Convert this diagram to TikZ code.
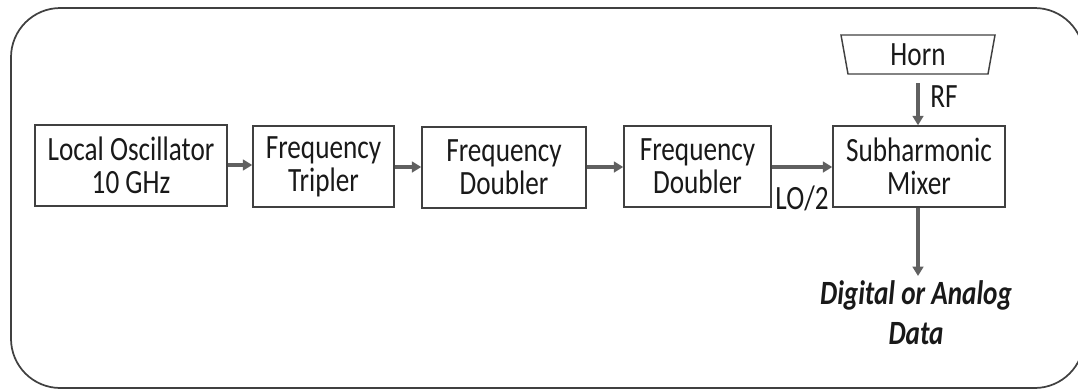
\documentclass[tikz,border=0pt]{standalone}
\usepackage{fontspec}
\setmainfont{Carlito}[FakeStretch=0.8]
\usetikzlibrary{arrows.meta,shapes.geometric}
\definecolor{boxline}{HTML}{404040}
\definecolor{arrowgray}{HTML}{606060}
\tikzset{
  blk/.style={draw=boxline,line width=1.1pt,minimum height=60.75pt,align=center,inner sep=0pt,
    font=\fontsize{25.5}{25}\selectfont,text=black!90},
  conn/.style={draw=arrowgray,line width=2.4pt,-{Triangle[length=7pt,width=8pt]}},
  lbl/.style={font=\fontsize{25.5}{25}\selectfont,text=black!90,inner sep=0pt},
}
\begin{document}
\begin{tikzpicture}[x=0.75pt,y=-0.75pt]
\useasboundingbox (0,0) rectangle (1078,390);
\begin{scope}
\clip (0,0) rectangle (1078,390);
\draw[draw=boxline,line width=1.3pt,rounded corners=37pt] (11,8) rectangle (1084,388);
\end{scope}
\node[blk,minimum width=144pt] (lo) at (131,165.5) {Local Oscillator\\10 GHz};
\node[blk,minimum width=105.75pt] (tri) at (323.5,166.5) {Frequency\\Tripler};
\node[blk,minimum width=123pt] (d1) at (504,167.5) {Frequency\\Doubler};
\node[blk,minimum width=110.25pt] (d2) at (697.5,166.5) {Frequency\\Doubler};
\node[blk,minimum width=129pt] (mix) at (919,166.5) {Subharmonic\\Mixer};
\draw[draw=boxline,line width=1.1pt] (841,35) -- (995,35) -- (988,74) -- (848,74) -- cycle;
\node[lbl] (horn) at (918,54.5) {Horn};
\coordinate (hornb) at (918,83);
\node[lbl,align=center,font=\fontsize{25.5}{30}\selectfont\bfseries\itshape] (data) at (916,313) {Digital or Analog\\Data};
\draw[conn] (lo.east |- 0,165) -- (tri.west |- 0,165);
\draw[conn] (tri.east |- 0,167) -- (d1.west |- 0,167);
\draw[conn] (d1.east |- 0,167) -- (d2.west |- 0,167);
\draw[conn] (d2.east |- 0,167) -- (mix.west |- 0,167);
\draw[conn] (hornb) -- (mix.north -| hornb);
\draw[conn] (mix.south -| hornb) -- (918,276);
\node[lbl] (rf) at (944,97) {RF};
\node[lbl] (lo2) at (802,198) {LO/2};
\end{tikzpicture}
\end{document}
